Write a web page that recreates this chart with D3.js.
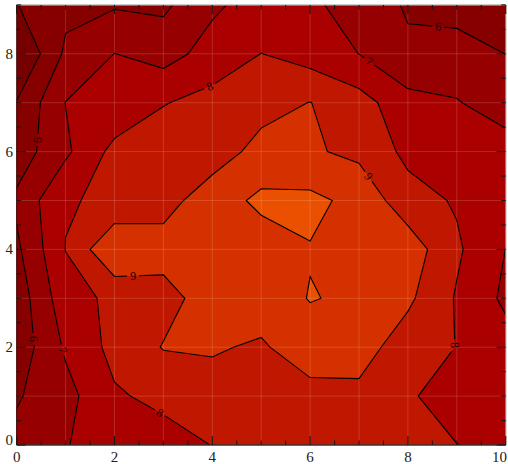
<!DOCTYPE html>
<html>
<head>
<meta charset="utf-8">
<script src="https://cdn.jsdelivr.net/npm/d3@7"></script>
<style>
  html, body { margin: 0; padding: 0; background: #ffffff; }
  svg { display: block; }
</style>
</head>
<body>
<svg id="chart" width="508" height="464"></svg>
<script>
// Sample grid: x positions, y positions and the measured surface value at each node.
const xValues = [0, 1, 2, 3, 4, 5, 6, 7, 8, 9, 10];
const yValues = [0, 1, 2, 3, 4, 5, 6, 7, 8, 9];

// One row per y value (bottom to top), one entry per x value.
const zY0 = [6.30, 6.93, 7.71, 7.59, 8.02, 8.30, 8.40, 8.40, 8.30, 8.01, 7.90];
const zY1 = [5.90, 6.67, 7.88, 8.25, 8.60, 8.70, 8.64, 8.76, 8.08, 7.70, 7.60];
const zY2 = [5.36, 7.14, 8.30, 9.05, 9.10, 8.87, 9.59, 9.43, 8.48, 7.98, 7.39];
const zY3 = [5.40, 7.62, 8.21, 8.64, 9.46, 9.52, 10.04, 9.86, 9.19, 7.91, 6.80];
const zY4 = [5.80, 8.02, 9.98, 9.39, 9.60, 9.49, 9.95, 9.80, 9.57, 8.15, 6.99];
const zY5 = [6.20, 7.94, 8.13, 8.65, 9.50, 10.22, 10.24, 9.71, 8.40, 7.90, 7.30];
const zY6 = [5.44, 6.81, 8.30, 8.58, 8.55, 9.30, 9.12, 8.78, 7.75, 7.50, 7.45];
const zY7 = [5.05, 7.02, 7.19, 7.95, 8.33, 8.675, 9.02, 8.41, 7.34, 7.06, 6.51];
const zY8 = [3.90, 6.18, 7.01, 6.59, 7.40, 8.01, 7.56, 6.99, 6.16, 6.40, 5.99];
const zY9 = [4.97, 5.75, 5.90, 5.81, 6.82, 7.44, 7.20, 6.53, 5.90, 5.63, 5.40];
const zRows = [zY0, zY1, zY2, zY3, zY4, zY5, zY6, zY7, zY8, zY9];

// Contour levels and the fill used below the first level and above each level.
const levels = [5, 6, 7, 8, 9, 10];
const bandColors = ["#760000", "#860000", "#970000", "#aa0000", "#c01800", "#d53100", "#ea5000"];

// Axis ticks.
const xTickLabels = [0, 2, 4, 6, 8, 10];
const yTickLabels = [0, 2, 4, 6, 8];
const minorStep = 0.5;

// Where the level numbers sit on their lines (approximate spots, snapped to the line).
const labelSpots = [
  { level: 6, x: 0.41, y: 6.24 },
  { level: 6, x: 8.62, y: 8.55 },
  { level: 6, x: 0.37, y: 2.17 },
  { level: 7, x: 0.95, y: 1.94 },
  { level: 7, x: 7.23, y: 7.87 },
  { level: 8, x: 3.98, y: 7.26 },
  { level: 8, x: 2.93, y: 0.65 },
  { level: 8, x: 8.96, y: 2.04 },
  { level: 9, x: 2.38, y: 3.46 },
  { level: 9, x: 7.23, y: 5.52 }
];

const svg = d3.select("#chart");
const W = 508, H = 464;
const plot = { left: 16.7, right: 505.7, top: 4.9, bottom: 445 };

const x = d3.scaleLinear().domain([xValues[0], xValues[xValues.length - 1]]).range([plot.left, plot.right]);
const y = d3.scaleLinear().domain([yValues[0], yValues[yValues.length - 1]]).range([plot.bottom, plot.top]);

// grid index -> data value
const ix = d3.scaleLinear().domain([0, xValues.length - 1]).range([xValues[0], xValues[xValues.length - 1]]);
const iy = d3.scaleLinear().domain([0, yValues.length - 1]).range([yValues[0], yValues[yValues.length - 1]]);

const nx = xValues.length, ny = yValues.length;
const values = zRows.flat();
const bands = d3.contours().size([nx, ny]).thresholds(levels)(values);

// d3.contours puts node i at coordinate i + 0.5
const toScreen = (cx, cy) => [x(ix(cx - 0.5)), y(iy(cy - 0.5))];
const projection = d3.geoTransform({
  point(cx, cy) { const p = toScreen(cx, cy); this.stream.point(p[0], p[1]); }
});
const path = d3.geoPath(projection);

const defs = svg.append("defs");
defs.append("clipPath").attr("id", "plot-clip")
  .append("rect")
  .attr("x", plot.left).attr("y", plot.top)
  .attr("width", plot.right - plot.left).attr("height", plot.bottom - plot.top);

// ---- filled bands ----
const fillLayer = svg.append("g").attr("clip-path", "url(#plot-clip)");
fillLayer.append("rect")
  .attr("x", plot.left).attr("y", plot.top)
  .attr("width", plot.right - plot.left).attr("height", plot.bottom - plot.top)
  .attr("fill", bandColors[0]);
fillLayer.selectAll("path.band")
  .data(bands)
  .join("path")
  .attr("class", "band")
  .attr("d", path)
  .attr("fill", (d, i) => bandColors[i + 1])
  .attr("fill-rule", "evenodd")
  .attr("stroke", "none");

// faint seams along the sampling grid
const seams = svg.append("g").attr("clip-path", "url(#plot-clip)")
  .attr("stroke", "rgba(255,225,215,0.17)").attr("stroke-width", 1);
seams.selectAll("line.vx")
  .data(xValues.slice(1, -1))
  .join("line")
  .attr("x1", d => x(d)).attr("x2", d => x(d))
  .attr("y1", plot.top).attr("y2", plot.bottom);
seams.selectAll("line.hy")
  .data(yValues.slice(1))
  .join("line")
  .attr("x1", plot.left).attr("x2", plot.right)
  .attr("y1", d => y(d)).attr("y2", d => y(d));

// ---- label placement: snap each spot onto its contour line ----
function ringSegments(band) {
  const segs = [];
  band.coordinates.forEach(poly => poly.forEach(ring => {
    for (let k = 0; k < ring.length - 1; k++) {
      const a = toScreen(ring[k][0], ring[k][1]);
      const b = toScreen(ring[k + 1][0], ring[k + 1][1]);
      segs.push([a, b]);
    }
  }));
  return segs;
}
const placed = labelSpots.map(s => {
  const band = bands[levels.indexOf(s.level)];
  const px = x(s.x), py = y(s.y);
  let best = null;
  ringSegments(band).forEach(([a, b]) => {
    const dx = b[0] - a[0], dy = b[1] - a[1];
    const len2 = dx * dx + dy * dy;
    if (len2 === 0) return;
    let t = ((px - a[0]) * dx + (py - a[1]) * dy) / len2;
    t = Math.max(0, Math.min(1, t));
    const qx = a[0] + t * dx, qy = a[1] + t * dy;
    const dist = Math.hypot(px - qx, py - qy);
    if (!best || dist < best.dist) best = { dist, qx, qy, dx, dy };
  });
  let ang = Math.atan2(best.dy, best.dx) * 180 / Math.PI;
  if (ang > 90) ang -= 180;
  if (ang <= -90) ang += 180;
  return { level: s.level, cx: best.qx, cy: best.qy, angle: ang };
});

// gaps in the lines under the labels
const mask = defs.append("mask").attr("id", "label-gaps")
  .attr("maskUnits", "userSpaceOnUse")
  .attr("x", 0).attr("y", 0).attr("width", W).attr("height", H);
mask.append("rect").attr("x", 0).attr("y", 0).attr("width", W).attr("height", H).attr("fill", "#fff");
mask.selectAll("rect.gap")
  .data(placed)
  .join("rect")
  .attr("class", "gap")
  .attr("x", -6).attr("y", -5).attr("width", 12).attr("height", 10)
  .attr("fill", "#000")
  .attr("transform", d => `translate(${d.cx},${d.cy}) rotate(${d.angle})`);

// ---- contour lines ----
const lineLayer = svg.append("g").attr("clip-path", "url(#plot-clip)");
lineLayer.append("g").attr("mask", "url(#label-gaps)")
  .selectAll("path.iso")
  .data(bands)
  .join("path")
  .attr("class", "iso")
  .attr("d", path)
  .attr("fill", "none")
  .attr("stroke", "#000")
  .attr("stroke-width", 1.1)
  .attr("stroke-linejoin", "miter");

// ---- level labels ----
svg.append("g").selectAll("text.lvl")
  .data(placed)
  .join("text")
  .attr("class", "lvl")
  .attr("transform", d => `translate(${d.cx},${d.cy}) rotate(${d.angle})`)
  .attr("text-anchor", "middle")
  .attr("dominant-baseline", "central")
  .attr("font-family", "'Liberation Serif', 'DejaVu Serif', serif")
  .attr("font-size", 12)
  .attr("fill", "#1a0000")
  .text(d => d.level);

// ---- frame ----
const frame = svg.append("g");
frame.append("line").attr("x1", plot.left).attr("x2", plot.right).attr("y1", plot.top).attr("y2", plot.top)
  .attr("stroke", "#bdbdbd").attr("stroke-width", 1.2);
frame.append("line").attr("x1", plot.right).attr("x2", plot.right).attr("y1", plot.top).attr("y2", plot.bottom)
  .attr("stroke", "#8a8a8a").attr("stroke-width", 1.2);
frame.append("line").attr("x1", plot.left).attr("x2", plot.left).attr("y1", plot.top).attr("y2", plot.bottom)
  .attr("stroke", "#3a0000").attr("stroke-width", 1);
frame.append("line").attr("x1", plot.left).attr("x2", plot.right).attr("y1", plot.bottom).attr("y2", plot.bottom)
  .attr("stroke", "#3a3030").attr("stroke-width", 1.4);

// ---- inward ticks on all four sides ----
const majorLen = 9, minorLen = 4.5;
const xMinor = d3.range(xValues[0], xValues[xValues.length - 1] + 1e-9, minorStep);
const yMinor = d3.range(yValues[0], yValues[yValues.length - 1] + 1e-9, minorStep);
const isMajorX = v => xTickLabels.some(t => Math.abs(t - v) < 1e-9);
const isMajorY = v => yTickLabels.some(t => Math.abs(t - v) < 1e-9);
const ticks = svg.append("g").attr("stroke", "#1e1414").attr("stroke-width", 1.1);
ticks.selectAll("line.tb").data(xMinor).join("line")
  .attr("x1", d => x(d)).attr("x2", d => x(d))
  .attr("y1", plot.bottom).attr("y2", d => plot.bottom - (isMajorX(d) ? majorLen : minorLen));
ticks.selectAll("line.tt").data(xMinor).join("line")
  .attr("x1", d => x(d)).attr("x2", d => x(d))
  .attr("y1", plot.top).attr("y2", d => plot.top + (isMajorX(d) ? majorLen : minorLen));
ticks.selectAll("line.tl").data(yMinor).join("line")
  .attr("y1", d => y(d)).attr("y2", d => y(d))
  .attr("x1", plot.left).attr("x2", d => plot.left + (isMajorY(d) ? majorLen : minorLen));
ticks.selectAll("line.tr").data(yMinor).join("line")
  .attr("y1", d => y(d)).attr("y2", d => y(d))
  .attr("x1", plot.right).attr("x2", d => plot.right - (isMajorY(d) ? majorLen : minorLen));

// ---- tick labels ----
const tickFont = "'Liberation Serif', 'Times New Roman', serif";
const lastX = xTickLabels[xTickLabels.length - 1];
svg.append("g").selectAll("text.xl").data(xTickLabels).join("text")
  .attr("x", d => d === lastX ? W - 1 : x(d)).attr("y", 462)
  .attr("text-anchor", d => d === lastX ? "end" : "middle")
  .attr("font-family", tickFont).attr("font-size", 15).attr("fill", "#222")
  .text(d => d);
svg.append("g").selectAll("text.yl").data(yTickLabels).join("text")
  .attr("x", 13).attr("y", d => Math.min(y(d), 440))
  .attr("text-anchor", "end").attr("dominant-baseline", "central")
  .attr("font-family", tickFont).attr("font-size", 15).attr("fill", "#222")
  .text(d => d);
</script>
</body>
</html>
